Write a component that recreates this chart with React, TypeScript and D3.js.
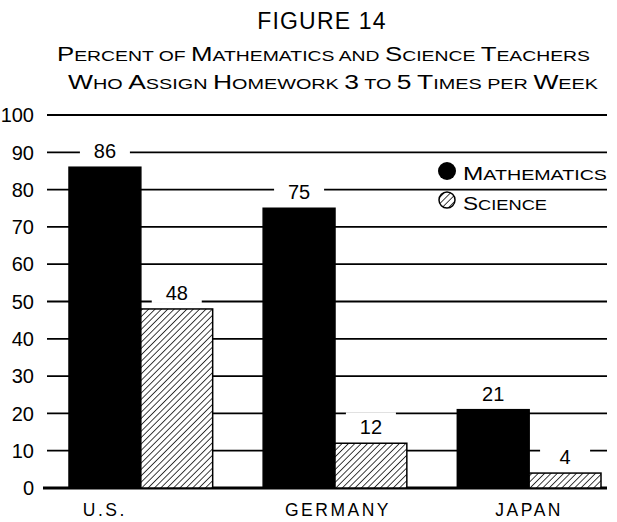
import React from "react";
import * as d3 from "d3";

const categories = ["U.S.", "GERMANY", "JAPAN"];
const seriesNames = ["Mathematics", "Science"];
const mathValues = [86, 75, 21];
const scienceValues = [48, 12, 4];
const yTicks = [0, 10, 20, 30, 40, 50, 60, 70, 80, 90, 100];
const titleText = "FIGURE 14";
const subtitleLines = [
  "Percent of Mathematics and Science Teachers",
  "Who Assign Homework 3 to 5 Times per Week",
];

const W = 617;
const H = 522;
const FONT = "'Liberation Sans', Arial, sans-serif";

function SmallCaps({ text, big, small }: { text: string; big: number; small: number }) {
  const parts: { s: string; big: boolean }[] = [];
  for (const ch of text) {
    const isBig = ch === " " ? false : ch === ch.toUpperCase();
    const last = parts[parts.length - 1];
    if (last && last.big === isBig) last.s += ch.toUpperCase();
    else parts.push({ s: ch.toUpperCase(), big: isBig });
  }
  return (
    <>
      {parts.map((p, i) => (
        <tspan key={i} fontSize={p.big ? big : small}>
          {p.s}
        </tspan>
      ))}
    </>
  );
}

export default function App() {
  const y = d3.scaleLinear().domain([0, 100]).range([488, 115]);
  const x0 = d3.scaleBand<string>().domain(categories).range([69, 601]).paddingInner(0.26).paddingOuter(0);
  const x1 = d3.scaleBand<string>().domain(seriesNames).range([0, x0.bandwidth()]).padding(0);
  const values = [mathValues, scienceValues];
  const labelDx = [-36, 3, 0];

  const gridX0 = 47;
  const gridX1 = 607;

  return (
    <svg
      width={W}
      height={H}
      style={{ position: "absolute", left: 0, top: 0, background: "#fff" }}
      fontFamily={FONT}
    >
      <defs>
        <pattern id="hatch" patternUnits="userSpaceOnUse" width={4.5} height={10} patternTransform="rotate(45)">
          <rect width={4.5} height={10} fill="#fff" />
          <line x1={0} y1={0} x2={0} y2={10} stroke="#000" strokeWidth={1.5} />
        </pattern>
      </defs>
      <rect width={W} height={H} fill="#fff" />

      {/* Title */}
      <text x={322} y={29} textAnchor="middle" fontSize={23} letterSpacing={1.2} fill="#000">
        {titleText}
      </text>
      <text x={57} y={61} fill="#000" textLength={533} lengthAdjust="spacingAndGlyphs">
        <SmallCaps text={subtitleLines[0]} big={20} small={15} />
      </text>
      <text x={68} y={89} fill="#000" textLength={530} lengthAdjust="spacingAndGlyphs">
        <SmallCaps text={subtitleLines[1]} big={20} small={15} />
      </text>

      {/* Gridlines and y labels */}
      {yTicks.map((t) => (
        <g key={t}>
          <line
            x1={t === 0 ? 43 : gridX0}
            x2={gridX1}
            y1={y(t)}
            y2={y(t)}
            stroke="#000"
            strokeWidth={t === 0 ? 3 : 1.8}
          />
          <text x={34} y={y(t)} dy="0.36em" textAnchor="end" fontSize={20} fill="#000">
            {t}
          </text>
        </g>
      ))}

      {/* Bars */}
      {categories.map((c, ci) => (
        <g key={c} transform={`translate(${x0(c)},0)`}>
          {seriesNames.map((s, si) => {
            const v = values[si][ci];
            const bx = x1(s)!;
            const bw = x1.bandwidth();
            return (
              <rect
                key={s}
                x={bx}
                y={y(v)}
                width={bw}
                height={y(0) - y(v)}
                fill={si === 0 ? "#000" : "url(#hatch)"}
                stroke="#000"
                strokeWidth={1.5}
              />
            );
          })}
        </g>
      ))}

      {/* Value labels */}
      {categories.map((c, ci) =>
        seriesNames.map((s, si) => {
          const v = values[si][ci];
          const cx = x0(c)! + x1(s)! + x1.bandwidth() / 2;
          const base = y(v) - 9;
          return (
            <g key={c + s}>
              <rect x={cx - 25} y={base - 22} width={50} height={25} fill="#fff" />
              <text x={cx} y={base} textAnchor="middle" fontSize={20} fill="#000">
                {v}
              </text>
            </g>
          );
        })
      )}

      {/* Legend */}
      <circle cx={447} cy={171} r={9} fill="#000" />
      <text x={463} y={180} fill="#000" textLength={144} lengthAdjust="spacingAndGlyphs">
        <SmallCaps text={seriesNames[0]} big={18} small={14.5} />
      </text>
      <circle cx={447} cy={200} r={8} fill="url(#hatch)" stroke="#000" strokeWidth={1.5} />
      <text x={463} y={210} fill="#000" textLength={84} lengthAdjust="spacingAndGlyphs">
        <SmallCaps text={seriesNames[1]} big={18} small={14.5} />
      </text>

      {/* X labels */}
      {categories.map((c, ci) => (
        <text
          key={c}
          x={x0(c)! + x0.bandwidth() / 2 + labelDx[ci]}
          y={516}
          textAnchor="middle"
          fontSize={17.5}
          letterSpacing={2.5}
          fill="#000"
        >
          {c}
        </text>
      ))}
    </svg>
  );
}
